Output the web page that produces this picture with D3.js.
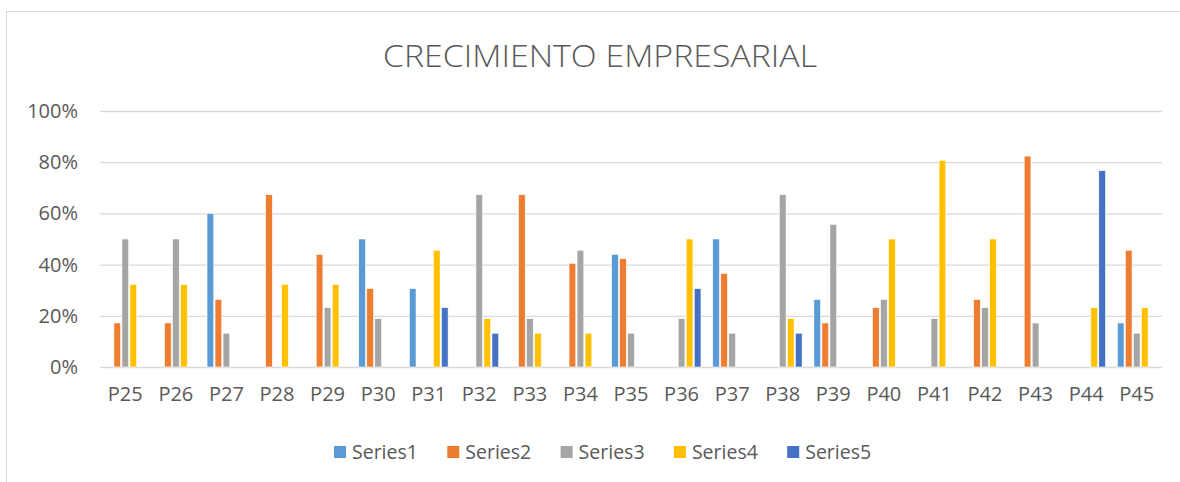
<!DOCTYPE html>
<html>
<head lang="es">
  <title>Crecimiento empresarial</title>
  <script src="https://d3js.org/d3.v7.min.js" charset="utf-8"></script>
  <style>
    body { margin: 0; background: #fff; }
  </style>
</head>
<body>
  <script>

    // data
    var categories = ["P25", "P26", "P27", "P28", "P29", "P30", "P31", "P32", "P33", "P34", "P35",
                      "P36", "P37", "P38", "P39", "P40", "P41", "P42", "P43", "P44", "P45"];
    var seriesNames = ["Series1", "Series2", "Series3", "Series4", "Series5"];
    var series1 = [0, 0, 0.60, 0, 0, 0.50, 0.306, 0, 0, 0, 0.44, 0, 0.50, 0, 0.264, 0, 0, 0, 0, 0, 0.172];
    var series2 = [0.172, 0.172, 0.264, 0.673, 0.44, 0.306, 0, 0, 0.673, 0.405, 0.423, 0, 0.366, 0, 0.172, 0.232, 0, 0.264, 0.824, 0, 0.456];
    var series3 = [0.50, 0.50, 0.132, 0, 0.232, 0.189, 0, 0.673, 0.189, 0.456, 0.132, 0.189, 0.132, 0.673, 0.557, 0.264, 0.189, 0.232, 0.172, 0, 0.132];
    var series4 = [0.323, 0.323, 0, 0.323, 0.323, 0, 0.456, 0.189, 0.132, 0.132, 0, 0.50, 0, 0.189, 0, 0.50, 0.807, 0.50, 0, 0.232, 0.232];
    var series5 = [0, 0, 0, 0, 0, 0, 0.232, 0.132, 0, 0, 0, 0.306, 0, 0.132, 0, 0, 0, 0, 0, 0.767, 0];
    var yTicks = [0, 0.2, 0.4, 0.6, 0.8, 1.0];
    var colors = ["#5b9bd5", "#ed7d31", "#a5a5a5", "#ffc000", "#4472c4"];

    var allSeries = [series1, series2, series3, series4, series5];

    var width = 1180;
    var height = 482;
    var margin = {top: 111, right: 18, bottom: 115, left: 100};
    var textColor = "#595959";
    var font = "'Open Sans', sans-serif";

    var svg = d3.select("body")
      .append("svg")
      .attr("width", width)
      .attr("height", height);

    // chart frame
    svg.append("rect")
      .attr("x", 6.5)
      .attr("y", 11.5)
      .attr("width", width)
      .attr("height", height)
      .attr("fill", "none")
      .attr("stroke", "#d9d9d9");

    svg.append("text")
      .attr("x", 600)
      .attr("y", 67)
      .attr("text-anchor", "middle")
      .attr("font-family", font)
      .attr("font-weight", 300)
      .attr("font-size", "31px")
      .attr("fill", textColor)
      .attr("textLength", 434)
      .attr("lengthAdjust", "spacingAndGlyphs")
      .text("CRECIMIENTO EMPRESARIAL");

    var x0 = d3.scaleBand()
      .domain(categories)
      .range([margin.left, width - margin.right])
      .padding(0);

    var group = 38.8;
    var x1 = d3.scaleBand()
      .domain(seriesNames)
      .range([(x0.bandwidth() - group) / 2, (x0.bandwidth() + group) / 2])
      .paddingInner(0.16);

    var y = d3.scaleLinear()
      .domain([0, 1])
      .range([height - margin.bottom, margin.top]);

    // gridlines + y labels
    var yAxis = svg.append("g")
      .attr("transform", "translate(" + margin.left + ",0)")
      .call(d3.axisLeft(y)
        .tickValues(yTicks)
        .tickSize(-(width - margin.left - margin.right))
        .tickPadding(22)
        .tickFormat(d3.format(".0%")));
    yAxis.select(".domain").remove();
    yAxis.selectAll(".tick line")
      .attr("stroke", "#d9d9d9")
      .attr("stroke-width", 1.3);
    yAxis.selectAll(".tick text")
      .attr("font-family", font)
      .attr("font-size", "20px")
      .attr("fill", textColor);

    // bars
    var rows = categories.map(function(c, i) {
      return {cat: c, vals: allSeries.map(function(s, j) { return {name: seriesNames[j], v: s[i], color: colors[j]}; })};
    });

    svg.append("g")
      .selectAll("g")
      .data(rows)
      .enter().append("g")
        .attr("transform", function(d) { return "translate(" + x0(d.cat) + ",0)"; })
      .selectAll("rect")
      .data(function(d) { return d.vals.filter(function(e) { return e.v > 0; }); })
      .enter().append("rect")
        .attr("x", function(d) { return x1(d.name); })
        .attr("width", x1.bandwidth())
        .attr("y", function(d) { return y(d.v); })
        .attr("height", function(d) { return y(0) - y(d.v); })
        .attr("fill", function(d) { return d.color; })
        .attr("stroke", "#fff")
        .attr("stroke-width", 0.6);

    // x labels
    var xAxis = svg.append("g")
      .attr("transform", "translate(0," + y(0) + ")")
      .call(d3.axisBottom(x0).tickSize(0).tickPadding(20));
    xAxis.select(".domain").remove();
    xAxis.selectAll(".tick text")
      .attr("font-family", font)
      .attr("font-size", "20px")
      .attr("fill", textColor);

    // legend
    var legend = svg.append("g")
      .selectAll("g")
      .data(seriesNames)
      .enter().append("g")
        .attr("transform", function(d, i) { return "translate(" + (334 + i * 113.3) + ",446)"; });

    legend.append("rect")
      .attr("width", 12)
      .attr("height", 12)
      .attr("fill", function(d, i) { return colors[i]; });

    legend.append("text")
      .attr("x", 18)
      .attr("y", 6)
      .attr("dy", "0.35em")
      .attr("font-family", font)
      .attr("font-size", "19.5px")
      .attr("fill", textColor)
      .text(function(d) { return d; });

  </script>
</body>
</html>
